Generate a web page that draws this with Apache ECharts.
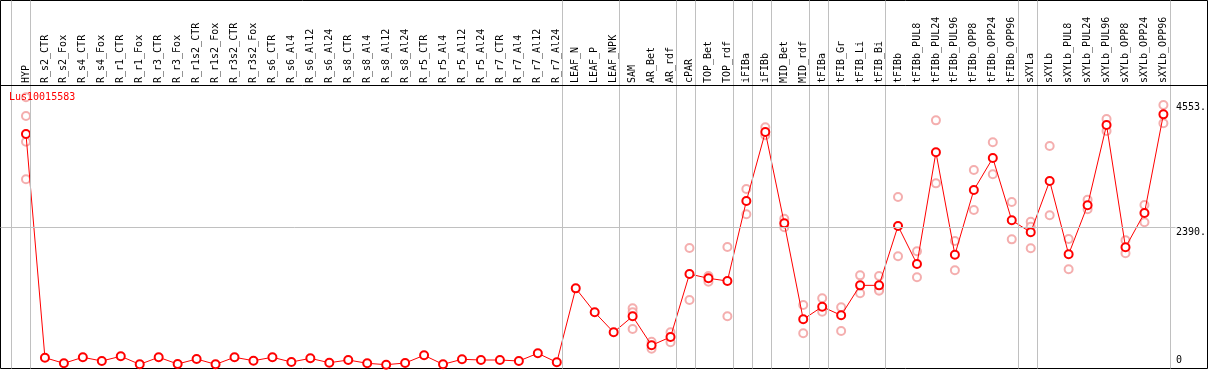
<!DOCTYPE html>
<html>
<head>
<meta charset="utf-8">
<script src="https://cdn.jsdelivr.net/npm/echarts@6/dist/echarts.min.js"></script>
<style>
html,body{margin:0;padding:0;background:#fff;}
#chart{width:1209px;height:370px;}
</style>
</head>
<body>
<div id="chart"></div>
<script>
// ---------- data ----------
const title = "Lus10015583";
const categories = ["HYP","R_s2_CTR","R_s2_Fox","R_s4_CTR","R_s4_Fox","R_r1_CTR","R_r1_Fox","R_r3_CTR","R_r3_Fox","R_r1s2_CTR","R_r1s2_Fox","R_r3s2_CTR","R_r3s2_Fox","R_s6_CTR","R_s6_Al4","R_s6_Al12","R_s6_Al24","R_s8_CTR","R_s8_Al4","R_s8_Al12","R_s8_Al24","R_r5_CTR","R_r5_Al4","R_r5_Al12","R_r5_Al24","R_r7_CTR","R_r7_Al4","R_r7_Al12","R_r7_Al24","LEAF_N","LEAF_P","LEAF_NPK","SAM","AR_Bet","AR_rdf","cPAR","TOP_Bet","TOP_rdf","iFIBa","iFIBb","MID_Bet","MID_rdf","tFIBa","tFIB_Gr","tFIB_Li","tFIB_Bi","tFIBb","tFIBb_PUL8","tFIBb_PUL24","tFIBb_PUL96","tFIBb_OPP8","tFIBb_OPP24","tFIBb_OPP96","sXYLa","sXYLb","sXYLb_PUL8","sXYLb_PUL24","sXYLb_PUL96","sXYLb_OPP8","sXYLb_OPP24","sXYLb_OPP96"];
const means = [4008,137,40,144,80,161,22,144,28,114,22,144,85,144,62,126,50,97,40,16,45,178,22,109,97,97,80,213,57,1337,922,576,853,351,495,1585,1511,1464,2848,4042,2462,801,1019,870,1389,1389,2416,1758,3691,1919,3039,3592,2514,2307,3194,1926,2774,4163,2047,2641,4348];
const replicates = [
  [4643,4319,3874,3224],
  [],[],[],[],[],[],[],[],[],[],[],[],[],[],[],[],[],[],[],[],[],[],[],[],[],[],[],[],
  [],[],[],
  [991,922,633],[414,293],[576,403],
  [2035,1135],[1550,1452],[2052,853],
  [3056,2618],[4123,3985],[2542,2393],[1049,559],
  [1165,933],[1009,599],[1562,1251],[1550,1320,1297],
  [2917,1891],[1978,1528],[4244,3154],[2156,1649],[3385,2693],[3864,3310],[2831,2185],
  [2490,2404,2030],[3800,2601],[2191,1666],[2871,2705],[4267,4060],[2168,1943],[2779,2480],[4509,4193]
];
const yTickValues = [0, 2390, 4553];
const gridLineValue = 2390;
// group separators: placed just after these category indices
const groupEnds = [-1,0,28,31,34,35,37,38,39,41,42,45,52,53,60];

// ---------- layout ----------
const W = 1209, H = 370;
const STEP = 19;               // px per category
const DATA_LEFT = 16.5;        // left edge of first category band
const DATA_RIGHT = DATA_LEFT + STEP * categories.length;
const FRAME_L = 0.5, FRAME_R = 1207.5, FRAME_T = 0.5, FRAME_B = 368.5;
const PLOT_TOP = 85;
const Y_MIN = -50, Y_MAX = 4856;
const ppu = (FRAME_B - PLOT_TOP) / (Y_MAX - Y_MIN);
const frameYMax = Y_MAX + (PLOT_TOP - FRAME_T) / ppu;
const catAt = x => (x - DATA_LEFT) / STEP - 0.5;
const frameXMin = catAt(FRAME_L), frameXMax = catAt(FRAME_R);
const SEP_OFF = 4.5 / STEP;

const FONT = "DejaVu Sans Mono";
const repData = [];
replicates.forEach((arr, i) => arr.forEach(v => repData.push([i, v])));

const chart = echarts.init(document.getElementById('chart'), null, {renderer: 'canvas'});
chart.setOption({
  animation: false,
  backgroundColor: '#fff',
  title: {
    text: title, left: 9, top: 92, padding: 0,
    textStyle: {fontFamily: FONT, fontSize: 10, fontWeight: 'normal', color: '#ff0000'}
  },
  grid: [
    {left: FRAME_L, top: FRAME_T, right: W - FRAME_R, bottom: H - FRAME_B,
     show: true, borderColor: '#000', borderWidth: 1, backgroundColor: 'transparent'},
    {left: DATA_LEFT, top: PLOT_TOP, right: W - DATA_RIGHT, bottom: H - FRAME_B}
  ],
  xAxis: [
    {gridIndex: 0, type: 'value', min: frameXMin, max: frameXMax, show: false},
    {gridIndex: 1, type: 'category', data: categories, position: 'top', boundaryGap: true,
     axisLine: {show: false}, axisTick: {show: false}, splitLine: {show: false},
     axisLabel: {interval: 0, rotate: 90, margin: 2, fontFamily: FONT, fontSize: 10, color: '#000'}}
  ],
  yAxis: [
    {gridIndex: 0, type: 'value', min: Y_MIN, max: frameYMax, show: false},
    {gridIndex: 1, type: 'value', min: Y_MIN, max: Y_MAX, position: 'right',
     axisLine: {show: false}, axisTick: {show: false}, splitLine: {show: false},
     axisLabel: {customValues: yTickValues.filter(v => v !== 0), verticalAlign: 'top', align: 'left', margin: 3,
       fontFamily: FONT, fontSize: 10, color: '#000', formatter: v => v + '.'}},
    {gridIndex: 1, type: 'value', min: Y_MIN, max: Y_MAX, position: 'right',
     axisLine: {show: false}, axisTick: {show: false}, splitLine: {show: false},
     axisLabel: {customValues: yTickValues.filter(v => v === 0), verticalAlign: 'bottom', align: 'left', margin: 3,
       fontFamily: FONT, fontSize: 10, color: '#000', formatter: v => String(v)}}
  ],
  series: [
    {type: 'line', xAxisIndex: 0, yAxisIndex: 0, data: [], silent: true, z: 1,
     markLine: {silent: true, symbol: 'none', label: {show: false}, animation: false,
       data: [
         ...groupEnds.map(i => ({xAxis: i + SEP_OFF, lineStyle: {color: '#c0c0c0', width: 1, type: 'solid'}})),
         [{coord: [frameXMin, gridLineValue], lineStyle: {color: '#c0c0c0', width: 1, type: 'solid'}},
          {coord: [catAt(DATA_RIGHT), gridLineValue]}],
         {yAxis: Y_MAX, lineStyle: {color: '#000', width: 1, type: 'solid'}}
       ]}},
    {type: 'scatter', xAxisIndex: 1, yAxisIndex: 1, data: repData, z: 2,
     symbol: 'emptyCircle', symbolSize: 8,
     itemStyle: {color: '#f19a9a', borderColor: '#f19a9a', borderWidth: 1}},
    {type: 'line', xAxisIndex: 1, yAxisIndex: 1, data: means, z: 3,
     symbol: 'emptyCircle', symbolSize: 8, showAllSymbol: true,
     lineStyle: {color: '#ff0000', width: 1},
     itemStyle: {color: '#ff0000', borderColor: '#d00000', borderWidth: 1.2}}
  ]
});
</script>
</body>
</html>
